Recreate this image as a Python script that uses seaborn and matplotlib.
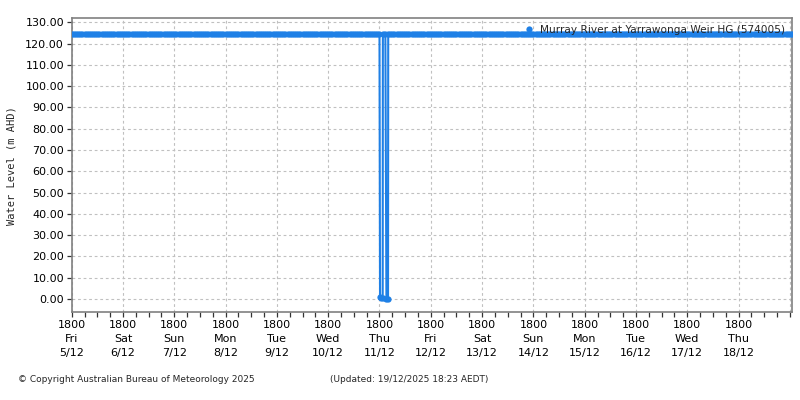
import pandas as pd
import matplotlib
matplotlib.use("Agg")
import matplotlib.pyplot as plt
import matplotlib.dates as mdates
from matplotlib.ticker import FuncFormatter
import seaborn as sns

# ============================================================
# data
# ============================================================
station = "Murray River at Yarrawonga Weir HG (574005)"

# hourly readings at the flat weir pool level
flat_start = "2025-12-05 18:00"
flat_end = "2025-12-19 19:00"
pool_level = 124.7   # m AHD

# readings during the dropout on Thu 11/12 evening
dip_times = ["2025-12-11 18:15", "2025-12-11 18:45", "2025-12-11 19:30",
             "2025-12-11 19:35", "2025-12-11 20:45", "2025-12-11 21:15",
             "2025-12-11 22:00", "2025-12-11 22:05"]
dip_levels = [0.8, 0.6, 0.5, 124.7, 124.7, 0.2, 0.1, 124.7]

# hours with no flat reading (replaced by the dip readings above)
skip_from = "2025-12-11 18:01"
skip_to = "2025-12-11 22:59"

yticks = [0, 10, 20, 30, 40, 50, 60, 70, 80, 90, 100, 110, 120, 130]
last_label_day = "2025-12-19 00:00"   # the 19/12 tick has no label

# ============================================================
# build table
# ============================================================
flat_times = pd.date_range(flat_start, flat_end, freq="h")
flat = pd.DataFrame({"time": flat_times, "level": pool_level})
flat = flat[(flat["time"] < skip_from) | (flat["time"] > skip_to)]
dips = pd.DataFrame({"time": pd.to_datetime(dip_times), "level": dip_levels})
df = pd.concat([flat, dips]).sort_values("time").reset_index(drop=True)
df["series"] = station

# ============================================================
# plot
# ============================================================
sns.set_style("white")
plt.rcParams["font.family"] = ["DejaVu Sans"]

fig = plt.figure(figsize=(8, 4), dpi=100)
ax = fig.add_axes([0.0896, 0.22, 0.9, 0.7342])

line_col = "#1f80e6"
sns.lineplot(data=df, x="time", y="level", hue="series", palette=[line_col],
             marker="o", markersize=4.5, markeredgewidth=0, linewidth=1.5,
             ax=ax, zorder=3)

ax.set_xlim(pd.Timestamp("2025-12-05 18:00"), pd.Timestamp("2025-12-19 18:50"))
ax.set_ylim(-6.1, 131.9)
ax.set_yticks(yticks)
ax.yaxis.set_major_formatter(FuncFormatter(lambda v, p: f"{v:.2f}"))

ax.xaxis.set_major_locator(mdates.HourLocator(byhour=[18]))
ax.xaxis.set_minor_locator(mdates.HourLocator(byhour=[0, 6, 12]))
cutoff = mdates.date2num(pd.Timestamp(last_label_day))


def day_label(v, pos):
    if v > cutoff:
        return ""
    d = mdates.num2date(v)
    return f"{d:%H%M}\n{d:%a}\n{d.day}/{d.month}"


ax.xaxis.set_major_formatter(FuncFormatter(day_label))
for lab in ax.get_xticklabels():
    lab.set_linespacing(1.5)

ax.tick_params(axis="both", which="both", direction="out", length=3.5,
               width=0.9, color="#333333", labelsize=8, labelcolor="black")
ax.tick_params(axis="y", left=True, pad=2)
ax.tick_params(axis="x", bottom=True, pad=2)
ax.tick_params(axis="x", which="minor", bottom=True)

ax.grid(True, which="major", color="#c0c0c0", linestyle=(0, (2.5, 2.5)),
        linewidth=0.8)
ax.set_axisbelow(True)
for s in ax.spines.values():
    s.set_color("#808080")
    s.set_linewidth(1.2)

ax.set_xlabel("")
ax.set_ylabel("Water Level (m AHD)", family="DejaVu Sans Mono", fontsize=7.5)
ax.yaxis.set_label_coords(-0.076, 0.5)

leg = ax.legend(loc="upper right", frameon=False, fontsize=7.6,
                handlelength=0.8, handletextpad=0.6, borderaxespad=0.45,
                borderpad=0.2)
for h in leg.legend_handles:
    h.set_linestyle("none")
    h.set_markersize(4.5)

fig.text(18 / 800, 1 - 380 / 400, "© Copyright Australian Bureau of Meteorology 2025",
         fontsize=6.5, va="center", ha="left")
fig.text(330 / 800, 1 - 380 / 400, "(Updated: 19/12/2025 18:23 AEDT)",
         fontsize=6.5, va="center", ha="left")

fig.savefig("out.png", dpi=100)
